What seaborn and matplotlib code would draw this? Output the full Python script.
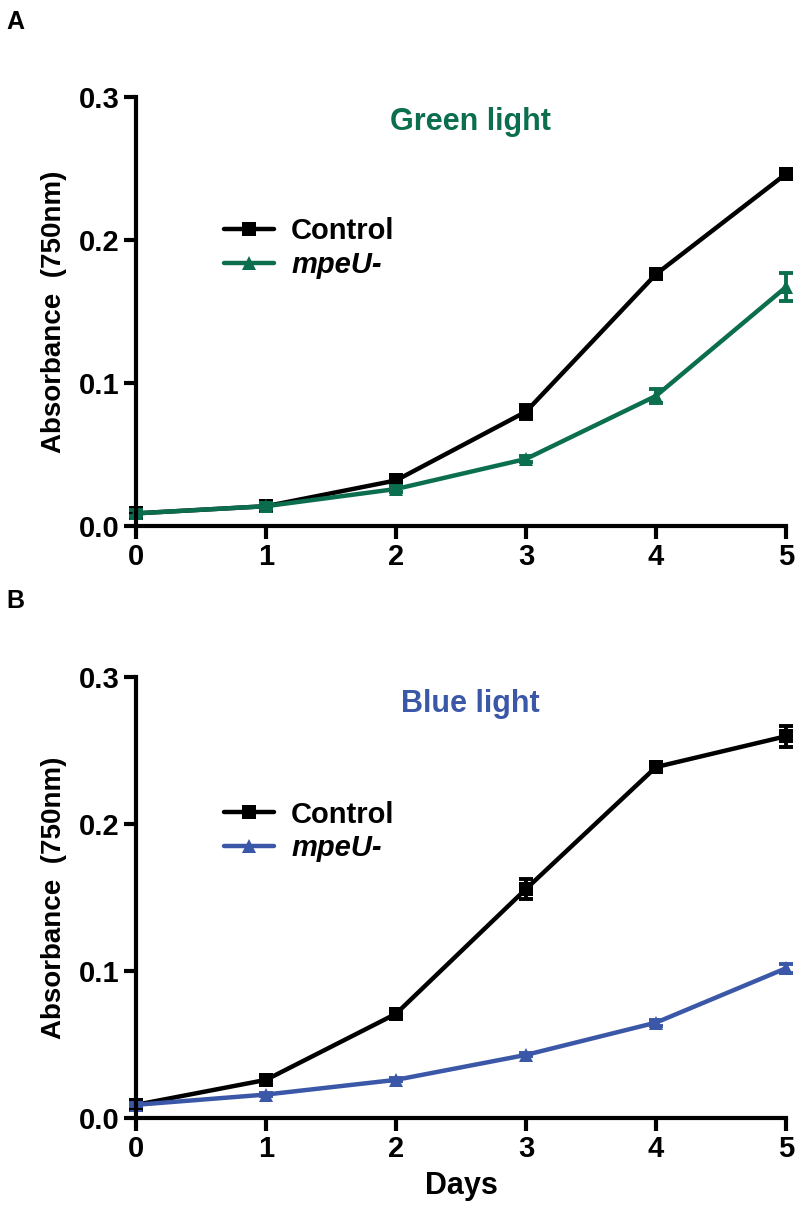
import numpy as np
import pandas as pd
import matplotlib
matplotlib.use('Agg')
import matplotlib.pyplot as plt
import seaborn as sns

# values (mean +/- error)
days = [0, 1, 2, 3, 4, 5]
green_control = [0.009, 0.014, 0.032, 0.080, 0.176, 0.246]
green_control_err = [0.002, 0.002, 0.002, 0.005, 0.003, 0.002]
green_mpeu = [0.009, 0.014, 0.026, 0.047, 0.091, 0.167]
green_mpeu_err = [0.002, 0.002, 0.002, 0.002, 0.005, 0.010]
blue_control = [0.009, 0.026, 0.071, 0.156, 0.239, 0.260]
blue_control_err = [0.002, 0.002, 0.002, 0.007, 0.002, 0.007]
blue_mpeu = [0.009, 0.016, 0.026, 0.043, 0.065, 0.102]
blue_mpeu_err = [0.001, 0.001, 0.001, 0.001, 0.002, 0.003]
yticks = [0.0, 0.1, 0.2, 0.3]

green = '#0b6e4f'
blue = '#3b57a7'

sns.set_style('ticks')
plt.rcParams['font.family'] = ['Liberation Sans', 'DejaVu Sans']
plt.rcParams['font.weight'] = 'bold'
plt.rcParams['text.color'] = 'black'
plt.rcParams['axes.labelcolor'] = 'black'
plt.rcParams['xtick.color'] = 'black'
plt.rcParams['ytick.color'] = 'black'
plt.rcParams['axes.edgecolor'] = 'black'

fig = plt.figure(figsize=(8, 12.07), dpi=100)
ax_a = fig.add_axes([0.17, 0.564, 0.8125, 0.356])
ax_b = fig.add_axes([0.17, 0.0737, 0.8125, 0.365])


def draw_panel(ax, ctrl, ctrl_err, mut, mut_err, color, title, show_xlabel):
    df = pd.DataFrame({
        'Days': days * 2,
        'Absorbance': ctrl + mut,
        'Strain': ['Control'] * 6 + ['mpeU-'] * 6,
    })
    sns.lineplot(data=df, x='Days', y='Absorbance', hue='Strain', style='Strain',
                 markers={'Control': 's', 'mpeU-': '^'}, dashes=False,
                 palette={'Control': 'black', 'mpeU-': color},
                 markersize=10, linewidth=3.2, markeredgewidth=0, ax=ax)
    ax.errorbar(days, ctrl, yerr=ctrl_err, fmt='none', ecolor='black',
                elinewidth=2.8, capsize=5, capthick=2.8)
    ax.errorbar(days, mut, yerr=mut_err, fmt='none', ecolor=color,
                elinewidth=2.8, capsize=5, capthick=2.8)
    ax.set_xlim(0, 5)
    ax.set_ylim(0, 0.3)
    ax.set_xticks(days)
    ax.set_yticks(yticks)
    ax.set_yticklabels(['%.1f' % t for t in yticks])
    ax.tick_params(axis='both', width=3, length=9, labelsize=21, pad=3)
    for lbl in ax.get_xticklabels() + ax.get_yticklabels():
        lbl.set_fontweight('bold')
    for s in ['left', 'bottom']:
        ax.spines[s].set_linewidth(3)
    sns.despine(ax=ax)
    for s in ['left', 'bottom']:
        ax.spines[s].set_clip_on(False)
    ax.set_ylabel('Absorbance  (750nm)', fontsize=20, fontweight='bold', labelpad=8)
    ax.set_xlabel('Days' if show_xlabel else '', fontsize=22, fontweight='bold', labelpad=6)
    ax.text(0.515, 0.94, title, transform=ax.transAxes, ha='center', va='center',
            color=color, fontsize=22, fontweight='bold')
    leg = ax.legend(loc='upper left', bbox_to_anchor=(0.095, 0.78), frameon=False,
                    fontsize=21, handlelength=1.7, handletextpad=0.6, labelspacing=0.2)
    for txt in leg.get_texts():
        txt.set_fontweight('bold')
        if txt.get_text() == 'mpeU-':
            txt.set_fontstyle('italic')
    for c in ax.collections + ax.lines:
        c.set_clip_on(False)


draw_panel(ax_a, green_control, green_control_err, green_mpeu, green_mpeu_err,
           green, 'Green light', False)
draw_panel(ax_b, blue_control, blue_control_err, blue_mpeu, blue_mpeu_err,
           blue, 'Blue light', True)

fig.text(0.008, 0.982, 'A', fontsize=18, fontweight='bold', va='center')
fig.text(0.008, 0.502, 'B', fontsize=18, fontweight='bold', va='center')

fig.savefig('out.png', dpi=100)
